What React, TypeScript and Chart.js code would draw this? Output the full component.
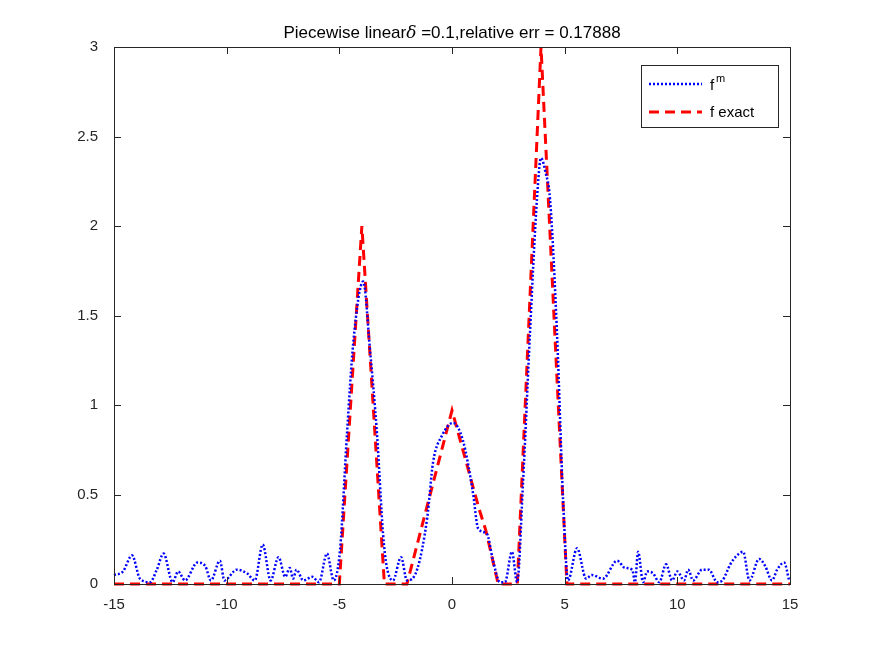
import React, { useEffect, useRef } from "react";
import { Chart, registerables } from "chart.js";
Chart.register(...registerables);

const approxX = [-15,-14.6,-14.2,-13.85,-13.4,-13.1,-12.8,-12.4,-12.15,-11.85,-11.3,-10.95,-10.7,-10.3,-10.1,-9.55,-9.1,-8.75,-8.4,-8.05,-7.7,-7.4,-7.2,-7.05,-6.9,-6.6,-6.2,-5.9,-5.55,-5.25,-4.97,-4.66,-4.38,-3.94,-3.64,-3.33,-3.06,-2.9,-2.62,-2.26,-2.0,-1.55,-1.1,-0.84,-0.44,0.05,0.49,0.93,1.16,1.55,1.82,2.13,2.35,2.66,2.89,3.15,3.46,3.77,3.95,4.15,4.35,4.66,4.93,5.15,5.55,5.95,6.2,6.7,7.33,7.68,8.0,8.12,8.26,8.48,8.66,8.92,9.2,9.5,9.77,10.0,10.3,10.48,10.7,11.1,11.4,11.77,12.0,12.35,12.65,12.92,13.2,13.63,13.9,14.2,14.43,14.74,14.96];
const approxY = [0.05,0.07,0.16,0.03,0.01,0.08,0.17,0.01,0.07,0.02,0.12,0.1,0.02,0.13,0.02,0.08,0.06,0.02,0.22,0.02,0.15,0.04,0.09,0.03,0.08,0.02,0.04,0.01,0.17,0.02,0.19,0.84,1.35,1.69,1.31,0.84,0.28,0.1,0.02,0.15,0.02,0.08,0.37,0.68,0.83,0.9,0.8,0.51,0.31,0.28,0.13,0.01,0.01,0.18,0.01,0.56,1.4,2.15,2.38,2.3,2.15,1.4,0.47,0.02,0.2,0.03,0.05,0.03,0.13,0.09,0.08,0.01,0.18,0.01,0.07,0.06,0.01,0.11,0.02,0.07,0.02,0.08,0.02,0.08,0.08,0.01,0.02,0.11,0.16,0.18,0.02,0.14,0.1,0.02,0.08,0.12,0.02];
const exactX = [-15,-5.0,-4.0,-3.0,-2.0,0.0,1.2,1.5,2.05,2.9,3.95,5.1,15];
const exactY = [0,0,2.0,0,0,0.97,0.42,0.3,0,0,3.0,0,0];
const xTicks = [-15,-10,-5,0,5,10,15];
const yTicks = [0,0.5,1,1.5,2,2.5,3];
const titleText = "Piecewise linear";
const FONT = "'Liberation Sans', Arial, sans-serif";
const TXT = "#262626";

export default function App() {
  const ref = useRef<HTMLCanvasElement>(null);
  useEffect(() => {
    document.body.style.margin = "0";
    const deco = {
      id: "deco",
      afterDraw(c: any) {
        const ctx = c.ctx;
        const a = c.chartArea;
        const xs = c.scales.x, ys = c.scales.y;
        ctx.save();
        ctx.strokeStyle = TXT;
        ctx.lineWidth = 1;
        ctx.strokeRect(a.left + 0.5, a.top + 0.5, a.right - a.left, a.bottom - a.top);
        ctx.beginPath();
        xTicks.forEach((t) => {
          const p = Math.round(xs.getPixelForValue(t)) + 0.5;
          ctx.moveTo(p, a.bottom); ctx.lineTo(p, a.bottom - 7);
          ctx.moveTo(p, a.top); ctx.lineTo(p, a.top + 7);
        });
        yTicks.forEach((t) => {
          const p = Math.round(ys.getPixelForValue(t)) + 0.5;
          ctx.moveTo(a.left, p); ctx.lineTo(a.left + 7, p);
          ctx.moveTo(a.right, p); ctx.lineTo(a.right - 7, p);
        });
        ctx.stroke();
        ctx.fillStyle = "#000";
        ctx.textBaseline = "alphabetic";
        ctx.font = `17px ${FONT}`;
        const p1 = titleText, p2 = "δ", p3 = " =0.1,relative err = 0.17888";
        const w1 = ctx.measureText(p1).width;
        ctx.font = `italic 17px 'DejaVu Serif', serif`;
        const w2 = ctx.measureText(p2).width;
        ctx.font = `17px ${FONT}`;
        const w3 = ctx.measureText(p3).width;
        let x0 = (a.left + a.right) / 2 - (w1 + w2 + w3) / 2;
        const ty = 38;
        ctx.fillText(p1, x0, ty); x0 += w1;
        ctx.font = `italic 17px 'DejaVu Serif', serif`;
        ctx.fillText(p2, x0, ty); x0 += w2;
        ctx.font = `17px ${FONT}`;
        ctx.fillText(p3, x0, ty);
        ctx.fillStyle = "#fff";
        ctx.fillRect(641, 65, 137, 62);
        ctx.strokeStyle = TXT;
        ctx.strokeRect(641.5, 65.5, 137, 62);
        ctx.lineWidth = 2.5;
        ctx.strokeStyle = "#0000ff";
        ctx.setLineDash([2, 2]);
        ctx.beginPath(); ctx.moveTo(649, 84); ctx.lineTo(702, 84); ctx.stroke();
        ctx.strokeStyle = "#ff0000";
        ctx.lineWidth = 3;
        ctx.setLineDash([10, 6]);
        ctx.beginPath(); ctx.moveTo(649, 112); ctx.lineTo(702, 112); ctx.stroke();
        ctx.setLineDash([]);
        ctx.fillStyle = "#000";
        ctx.font = `15px ${FONT}`;
        ctx.fillText("f", 710, 90);
        ctx.font = `11px ${FONT}`;
        ctx.fillText("m", 716, 82);
        ctx.font = `15px ${FONT}`;
        ctx.fillText("f exact", 710, 117);
        ctx.restore();
      },
    };
    const chart = new Chart(ref.current!, {
      type: "line",
      data: {
        datasets: [
          {
            label: "f^m",
            data: approxX.map((x, i) => ({ x, y: approxY[i] })),
            borderColor: "#0000ff",
            borderWidth: 2.5,
            borderDash: [2, 2],
            pointRadius: 0,
            cubicInterpolationMode: "monotone",
            clip: 3,
          },
          {
            label: "f exact",
            data: exactX.map((x, i) => ({ x, y: exactY[i] })),
            borderColor: "#ff0000",
            borderWidth: 3,
            borderDash: [10, 6],
            pointRadius: 0,
            tension: 0,
            clip: 3,
          },
        ],
      },
      options: {
        animation: false,
        responsive: false,
        maintainAspectRatio: false,
        layout: { padding: { left: 0, top: 47, right: 85, bottom: 42 } },
        plugins: { legend: { display: false }, title: { display: false }, tooltip: { enabled: false } },
        scales: {
          x: {
            type: "linear", min: -15, max: 15,
            afterFit: (s: any) => { s.height = 30; },
            afterBuildTicks: (s: any) => { s.ticks = xTicks.map((v) => ({ value: v })); },
            grid: { display: false },
            border: { display: false },
            ticks: { color: TXT, font: { family: FONT, size: 15 }, padding: 4, callback: (v: any) => String(v) },
          },
          y: {
            min: 0, max: 3,
            afterFit: (s: any) => { s.width = 114; },
            afterBuildTicks: (s: any) => { s.ticks = yTicks.map((v) => ({ value: v })); },
            grid: { display: false },
            border: { display: false },
            ticks: { color: TXT, font: { family: FONT, size: 15 }, padding: 8, callback: (v: any) => String(v) },
          },
        },
      },
      plugins: [deco],
    } as any);
    return () => chart.destroy();
  }, []);
  return <canvas ref={ref} width={875} height={656} style={{ display: "block" }} />;
}
